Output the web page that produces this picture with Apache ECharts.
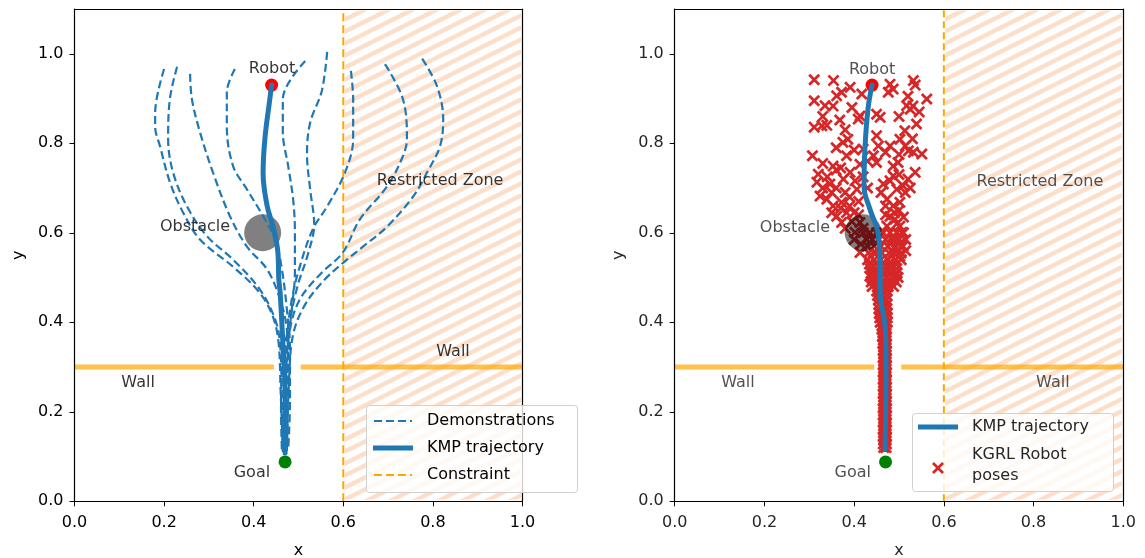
<!DOCTYPE html>
<html>
<head>
<meta charset="utf-8">
<script src="https://cdn.jsdelivr.net/npm/echarts@6/dist/echarts.min.js"></script>
<style>
  html, body { margin: 0; padding: 0; background: #fff; }
  #chart { width: 1145px; height: 558px; }
</style>
</head>
<body>
<div id="chart"></div>
<script>
// ---- data (x, y in workspace units) ----
const xTicks = [0.0, 0.2, 0.4, 0.6, 0.8, 1.0];
const yTicks = [0.0, 0.2, 0.4, 0.6, 0.8, 1.0];

const robotPos = [0.44, 0.93];
const goalPos = [0.47, 0.088];
const obstaclePos = [0.42, 0.60];
const constraintX = 0.6;
const restrictedZone = [0.6, 1.0];
const wallY = 0.3;
const wallGap = [0.445, 0.505];

// demonstrated trajectories (left panel)
const demoA = [[0.20,0.966],[0.18,0.868],[0.18,0.837],[0.191,0.793],[0.213,0.713],[0.242,0.646],[0.28,0.585],[0.354,0.524],[0.41,0.47],[0.44,0.42],[0.455,0.36],[0.46,0.25],[0.465,0.11]];
const demoB = [[0.229,0.971],[0.213,0.90],[0.209,0.81],[0.22,0.735],[0.251,0.659],[0.296,0.592],[0.354,0.54],[0.414,0.473],[0.448,0.406],[0.459,0.35],[0.463,0.227],[0.465,0.115]];
const demoC = [[0.258,0.955],[0.262,0.899],[0.28,0.825],[0.309,0.735],[0.347,0.637],[0.385,0.569],[0.43,0.518],[0.459,0.451],[0.474,0.384],[0.477,0.294],[0.474,0.115]];
const demoD = [[0.358,0.966],[0.34,0.914],[0.34,0.838],[0.354,0.749],[0.385,0.697],[0.421,0.637],[0.448,0.585],[0.463,0.518],[0.474,0.429],[0.481,0.339],[0.481,0.227],[0.477,0.115]];
const demoE = [[0.515,0.984],[0.465,0.899],[0.465,0.825],[0.477,0.749],[0.488,0.675],[0.492,0.601],[0.492,0.512],[0.485,0.429],[0.477,0.35],[0.472,0.227],[0.47,0.115]];
const demoF = [[0.564,1.004],[0.552,0.917],[0.526,0.846],[0.519,0.776],[0.526,0.697],[0.535,0.619],[0.521,0.552],[0.499,0.485],[0.481,0.406],[0.465,0.316],[0.461,0.204],[0.463,0.11]];
const demoG = [[0.617,0.962],[0.622,0.899],[0.622,0.81],[0.604,0.735],[0.564,0.659],[0.532,0.608],[0.503,0.525],[0.485,0.451],[0.474,0.361],[0.468,0.227],[0.465,0.115]];
const demoH = [[0.693,0.977],[0.733,0.899],[0.742,0.81],[0.733,0.771],[0.698,0.704],[0.637,0.63],[0.599,0.556],[0.548,0.507],[0.503,0.451],[0.481,0.384],[0.472,0.272],[0.47,0.11]];
const demoI = [[0.776,0.989],[0.809,0.928],[0.823,0.854],[0.816,0.794],[0.787,0.735],[0.756,0.681],[0.698,0.614],[0.644,0.569],[0.608,0.54],[0.559,0.496],[0.515,0.44],[0.488,0.373],[0.479,0.272],[0.474,0.11]];
const demonstrations = [demoA, demoB, demoC, demoD, demoE, demoF, demoG, demoH, demoI];

// reproduced KMP trajectory
const kmpLeft = [[0.44,0.93],[0.436,0.899],[0.425,0.81],[0.421,0.734],[0.43,0.66],[0.443,0.614],[0.454,0.556],[0.456,0.496],[0.459,0.467],[0.465,0.355],[0.47,0.243],[0.47,0.108]];
const kmpRight = [[0.44,0.93],[0.431,0.878],[0.424,0.787],[0.422,0.704],[0.435,0.653],[0.453,0.601],[0.458,0.525],[0.458,0.467],[0.469,0.391],[0.471,0.317],[0.469,0.115]];

// KGRL robot poses: exploratory spread near the start
const posesSpread = [
  [0.311,0.942],[0.354,0.940],[0.391,0.925],[0.372,0.914],[0.417,0.91],[0.48,0.932],[0.487,0.921],[0.476,0.914],[0.532,0.94],[0.536,0.93],
  [0.311,0.895],[0.335,0.884],[0.353,0.883],[0.361,0.906],[0.413,0.861],[0.45,0.865],[0.458,0.858],[0.517,0.884],[0.531,0.883],[0.562,0.899],[0.525,0.876],
  [0.311,0.836],[0.328,0.839],[0.339,0.84],[0.368,0.852],[0.409,0.854],[0.513,0.828],[0.539,0.843],
  [0.375,0.802],[0.386,0.809],[0.42,0.787],[0.45,0.817],[0.454,0.794],[0.443,0.772],[0.48,0.794],[0.502,0.809],[0.514,0.794],[0.521,0.783],[0.551,0.776],[0.532,0.78],
  [0.307,0.772],[0.353,0.749],[0.383,0.772],[0.413,0.753],[0.45,0.757],[0.487,0.749],[0.498,0.757],[0.536,0.735],[0.487,0.727],
  [0.32,0.731],[0.317,0.713],[0.346,0.709],[0.376,0.72],[0.391,0.735],[0.402,0.716],[0.406,0.697],[0.465,0.709],[0.48,0.716],[0.495,0.697],[0.509,0.705],[0.514,0.69],
  [0.324,0.682],[0.339,0.675],[0.353,0.66],[0.372,0.668],[0.383,0.645],[0.473,0.675],[0.487,0.66],[0.502,0.668],[0.48,0.637],
  [0.361,0.637],[0.372,0.623],[0.413,0.623],[0.402,0.601],[0.428,0.585],[0.473,0.615],[0.487,0.593],[0.506,0.601],[0.509,0.57],[0.491,0.63],[0.502,0.615],
  [0.413,0.556],[0.443,0.556],[0.487,0.556],[0.48,0.525],[0.443,0.525],[0.435,0.503],[0.487,0.503],[0.502,0.548],
  [0.33,0.70],[0.35,0.69],[0.36,0.70],[0.38,0.69],[0.39,0.68],[0.37,0.655],[0.35,0.645],[0.39,0.66],[0.40,0.645],[0.41,0.67],
  [0.395,0.625],[0.38,0.61],[0.40,0.585],[0.415,0.575],[0.42,0.61],[0.41,0.64],
  [0.46,0.69],[0.47,0.66],[0.49,0.645],[0.50,0.65],[0.51,0.635],[0.495,0.62],[0.51,0.60],[0.515,0.585],[0.50,0.575],[0.49,0.565],[0.515,0.56],[0.47,0.64],
  [0.34,0.725],[0.36,0.74],[0.33,0.755],[0.37,0.745],[0.42,0.725],[0.43,0.70],[0.50,0.73],[0.52,0.72],[0.525,0.70],
  [0.43,0.76],[0.40,0.785],[0.36,0.79],[0.50,0.775],[0.47,0.78],[0.50,0.86],[0.52,0.905],[0.545,0.87],[0.395,0.88],[0.33,0.86],[0.38,0.83],[0.53,0.81]
];
// KGRL robot poses: converged poses along the path to the goal
const posesConverged = [
  [0.466,0.12],[0.471,0.12],[0.465,0.128],[0.472,0.128],[0.466,0.136],[0.471,0.136],[0.465,0.144],[0.472,0.144],
  [0.466,0.152],[0.471,0.152],[0.465,0.16],[0.472,0.16],[0.466,0.168],[0.471,0.168],[0.465,0.176],[0.472,0.176],
  [0.466,0.184],[0.471,0.184],[0.465,0.192],[0.472,0.192],[0.466,0.20],[0.471,0.20],[0.465,0.208],[0.472,0.208],
  [0.466,0.216],[0.471,0.216],[0.465,0.224],[0.472,0.224],[0.466,0.232],[0.471,0.232],[0.465,0.24],[0.472,0.24],
  [0.466,0.248],[0.471,0.248],[0.465,0.256],[0.472,0.256],[0.466,0.264],[0.471,0.264],[0.465,0.272],[0.472,0.272],
  [0.466,0.28],[0.471,0.28],[0.465,0.288],[0.472,0.288],[0.466,0.296],[0.471,0.296],[0.465,0.304],[0.472,0.304],
  [0.466,0.312],[0.471,0.312],[0.465,0.32],[0.472,0.32],[0.466,0.328],[0.471,0.328],[0.465,0.336],[0.472,0.336],
  [0.466,0.344],[0.471,0.344],[0.464,0.352],[0.472,0.352],[0.465,0.36],[0.471,0.36],[0.463,0.368],[0.472,0.368],
  [0.464,0.376],[0.471,0.376],[0.462,0.384],[0.472,0.384],[0.462,0.392],[0.471,0.392],
  [0.458,0.40],[0.466,0.40],[0.474,0.40],[0.457,0.41],[0.466,0.41],[0.474,0.41],[0.456,0.42],[0.465,0.42],[0.474,0.42],
  [0.455,0.43],[0.464,0.43],[0.473,0.43],[0.455,0.44],[0.464,0.44],[0.473,0.44],[0.454,0.45],[0.463,0.45],[0.472,0.45],
  [0.452,0.46],[0.462,0.46],[0.473,0.46],[0.45,0.47],[0.462,0.47],[0.474,0.47],
  [0.44,0.48],[0.452,0.48],[0.464,0.48],[0.476,0.48],[0.488,0.48],[0.438,0.49],[0.452,0.49],[0.466,0.49],[0.48,0.49],[0.494,0.49],
  [0.44,0.50],[0.455,0.50],[0.47,0.50],[0.485,0.50],[0.498,0.50],[0.438,0.51],[0.452,0.51],[0.467,0.51],[0.482,0.51],[0.496,0.51],
  [0.436,0.52],[0.45,0.52],[0.465,0.52],[0.48,0.52],[0.495,0.52],[0.434,0.53],[0.449,0.53],[0.464,0.53],[0.479,0.53],[0.494,0.53],
  [0.43,0.54],[0.445,0.54],[0.46,0.54],[0.476,0.54],[0.492,0.54],[0.505,0.54],
  [0.432,0.555],[0.448,0.555],[0.462,0.555],[0.478,0.555],[0.495,0.555],[0.505,0.555],
  [0.43,0.57],[0.445,0.57],[0.46,0.57],[0.475,0.57],[0.492,0.57],[0.505,0.57],
  [0.428,0.585],[0.44,0.585],[0.455,0.585],[0.47,0.585],[0.485,0.585],[0.50,0.585],
  [0.42,0.60],[0.435,0.60],[0.45,0.60],[0.465,0.60],[0.48,0.60],[0.495,0.60]
];
const kgrlPoses = posesSpread.concat(posesConverged);

// ---- styles ----
const FONT = 'DejaVu Sans';
const BLUE = '#1f77b4';
const RED = '#d62728';
const ORANGE = '#ffa500';
const WALL = 'rgba(255,165,0,0.7)';
const CROSS_PTS = [[0,1.6],[1.6,0],[5,3.4],[8.4,0],[10,1.6],[6.6,5],[10,8.4],[8.4,10],[5,6.6],[1.6,10],[0,8.4],[3.4,5]];
const CROSS = 'path://M' + CROSS_PTS.map(p => p[0] + ',' + p[1]).join('L') + 'Z';

// diagonal hatch tile for the restricted zone
function hatchCanvas() {
  const s = 12, w = 2 * s;
  const c = document.createElement('canvas');
  c.width = w; c.height = s;
  const g = c.getContext('2d');
  g.fillStyle = '#ffffff';
  g.fillRect(0, 0, w, s);
  g.strokeStyle = '#fddfc9';
  g.lineWidth = 4.4;
  for (let k = -1; k <= 1; k++) {
    for (let m = -1; m <= 1; m++) {
      g.beginPath();
      g.moveTo(k * w, s + m * s);
      g.lineTo(k * w + w, m * s);
      g.stroke();
    }
  }
  return c;
}
const hatch = { image: hatchCanvas(), repeat: 'repeat' };

function axisPair(idx, textColor) {
  const tickFmt = v => v.toFixed(1);
  const common = {
    type: 'value', gridIndex: idx, z: 10,
    axisLine: { show: true, onZero: false, lineStyle: { color: '#000', width: 1.2 } },
    axisTick: { show: true, inside: false, length: 5, lineStyle: { color: '#000', width: 1 } },
    splitLine: { show: false },
    nameLocation: 'middle',
    nameTextStyle: { fontFamily: FONT, fontSize: 16, color: textColor }
  };
  return {
    x: Object.assign({}, common, {
      min: 0, max: 1, interval: 0.2, name: 'x', nameGap: 42,
      axisLabel: { fontFamily: FONT, fontSize: 16, color: textColor, margin: 14, formatter: tickFmt }
    }),
    y: Object.assign({}, common, {
      min: 0, max: 1.1, interval: 0.2, name: 'y', nameGap: 48,
      axisLabel: { fontFamily: FONT, fontSize: 16, color: textColor, margin: 11, formatter: tickFmt,
        showMaxLabel: false }
    }),
    // plain frame lines on the top and right edges
    xTop: { type: 'value', gridIndex: idx, z: 10, position: 'top', min: 0, max: 1,
      axisLine: { show: true, onZero: false, lineStyle: { color: '#000', width: 1.2 } },
      axisTick: { show: false }, axisLabel: { show: false }, splitLine: { show: false } },
    yRight: { type: 'value', gridIndex: idx, z: 10, position: 'right', min: 0, max: 1.1,
      axisLine: { show: true, onZero: false, lineStyle: { color: '#000', width: 1.2 } },
      axisTick: { show: false }, axisLabel: { show: false }, splitLine: { show: false } }
  };
}
const axL = axisPair(0, '#000');
const axR = axisPair(1, '#262626');

function zoneSeries(idx) {
  return {
    type: 'line', xAxisIndex: idx, yAxisIndex: idx, data: [], z: 1, silent: true,
    markArea: {
      silent: true, z: 1,
      itemStyle: { color: hatch, borderColor: '#fff', borderWidth: 3 },
      data: [[{ coord: [restrictedZone[0], 0] }, { coord: [restrictedZone[1], 1.1] }]]
    }
  };
}
function wallSeries(idx) {
  const st = { color: WALL, width: 5 };
  return [
    { type: 'line', xAxisIndex: idx, yAxisIndex: idx, data: [[0, wallY], [wallGap[0], wallY]], symbol: 'none', lineStyle: st, z: 3 },
    { type: 'line', xAxisIndex: idx, yAxisIndex: idx, data: [[wallGap[1], wallY], [1, wallY]], symbol: 'none', lineStyle: st, z: 3 }
  ];
}
function constraintSeries(idx, dash) {
  return { type: 'line', xAxisIndex: idx, yAxisIndex: idx, data: [[constraintX, 0], [constraintX, 1.1]], symbol: 'none',
    lineStyle: { color: ORANGE, width: 2, type: dash }, z: 4 };
}
function pointSeries(idx, pos, color, size, z) {
  return { type: 'scatter', xAxisIndex: idx, yAxisIndex: idx, data: [pos], symbol: 'circle', symbolSize: size,
    itemStyle: { color: color, opacity: 1 }, z: z };
}
function kmpSeries(idx, data) {
  return { type: 'line', xAxisIndex: idx, yAxisIndex: idx, data: data, smooth: 0.4, symbol: 'none',
    lineStyle: { color: BLUE, width: 5, cap: 'round', join: 'round' }, z: 7 };
}
function labelSeries(idx, items, color) {
  return { type: 'scatter', xAxisIndex: idx, yAxisIndex: idx, symbolSize: 0, z: 9, silent: true,
    data: items.map(t => ({ name: t[0], value: [t[1], t[2]] })),
    label: { show: true, position: 'inside', formatter: '{b}', fontFamily: FONT, fontSize: 16, color: color } };
}

const series = [];
// left panel
series.push(zoneSeries(0));
series.push(...wallSeries(0));
series.push(constraintSeries(0, [8, 4]));
series.push(pointSeries(0, obstaclePos, '#808080', 37, 5));
demonstrations.forEach(d => series.push({
  type: 'line', xAxisIndex: 0, yAxisIndex: 0, data: d, smooth: 0.35, symbol: 'none',
  lineStyle: { color: BLUE, width: 2.2, type: [8, 4] }, z: 6
}));
series.push(pointSeries(0, robotPos, '#ff0000', 13, 6));
series.push(kmpSeries(0, kmpLeft));
series.push(pointSeries(0, goalPos, '#008000', 13, 8));
series.push(labelSeries(0, [
  ['Robot', 0.441, 0.966], ['Obstacle', 0.269, 0.614], ['Restricted Zone', 0.816, 0.715],
  ['Wall', 0.142, 0.265], ['Wall', 0.845, 0.334], ['Goal', 0.396, 0.064]
], '#000'));

// right panel
series.push(zoneSeries(1));
series.push(...wallSeries(1));
series.push(constraintSeries(1, [7, 4]));
series.push({ type: 'scatter', xAxisIndex: 1, yAxisIndex: 1, data: kgrlPoses, symbol: CROSS, symbolSize: 12,
  itemStyle: { color: RED, opacity: 1 }, z: 5 });
series.push(pointSeries(1, obstaclePos, 'rgba(0,0,0,0.5)', 37, 6));
series.push(pointSeries(1, robotPos, '#ff0000', 13, 6));
series.push(kmpSeries(1, kmpRight));
series.push(pointSeries(1, goalPos, '#008000', 13, 8));
series.push(labelSeries(1, [
  ['Robot', 0.44, 0.964], ['Obstacle', 0.268, 0.612], ['Restricted Zone', 0.814, 0.713],
  ['Wall', 0.141, 0.265], ['Wall', 0.843, 0.265], ['Goal', 0.397, 0.064]
], '#262626'));

// legends
const legendText = (x, y, t, color) => ({ type: 'text', z: 101, x: x, y: y, style: { text: t, fill: color,
  fontFamily: FONT, fontSize: 16, verticalAlign: 'middle', align: 'left' } });
const crossPoints = CROSS_PTS.map(p => [932 + p[0] * 1.2, 462 + p[1] * 1.2]);
const graphic = [
  { type: 'rect', z: 100, shape: { x: 366.5, y: 405.5, width: 211, height: 87, r: 3 },
    style: { fill: 'rgba(255,255,255,0.8)', stroke: '#d0d0d0', lineWidth: 1 } },
  { type: 'line', z: 101, shape: { x1: 374, y1: 421, x2: 412, y2: 421 }, style: { stroke: BLUE, lineWidth: 2.2, lineDash: [8, 4] } },
  { type: 'line', z: 101, shape: { x1: 373, y1: 448, x2: 413, y2: 448 }, style: { stroke: BLUE, lineWidth: 5 } },
  { type: 'line', z: 101, shape: { x1: 374, y1: 475, x2: 412, y2: 475 }, style: { stroke: ORANGE, lineWidth: 2.2, lineDash: [8, 4] } },
  legendText(427, 421, 'Demonstrations', '#000'),
  legendText(427, 448, 'KMP trajectory', '#000'),
  legendText(427, 475, 'Constraint', '#000'),

  { type: 'rect', z: 100, shape: { x: 912.5, y: 413.5, width: 201, height: 78, r: 3 },
    style: { fill: 'rgba(255,255,255,0.8)', stroke: '#d0d0d0', lineWidth: 1 } },
  { type: 'line', z: 101, shape: { x1: 918, y1: 427, x2: 958, y2: 427 }, style: { stroke: BLUE, lineWidth: 5 } },
  { type: 'polygon', z: 101, shape: { points: crossPoints }, style: { fill: RED } },
  legendText(972, 427, 'KMP trajectory', '#262626'),
  legendText(972, 455, 'KGRL Robot', '#262626'),
  legendText(972, 476, 'poses', '#262626')
];

const chart = echarts.init(document.getElementById('chart'), null, { renderer: 'canvas' });
chart.setOption({
  animation: false,
  backgroundColor: '#fff',
  grid: [
    { left: 74.5, top: 9, width: 448, height: 492.3, show: false, containLabel: false, outerBoundsMode: 'none' },
    { left: 674.7, top: 9, width: 448.6, height: 492.3, show: false, containLabel: false, outerBoundsMode: 'none' }
  ],
  xAxis: [axL.x, axR.x, axL.xTop, axR.xTop],
  yAxis: [axL.y, axR.y, axL.yRight, axR.yRight],
  series: series,
  graphic: graphic
});
</script>
</body>
</html>
